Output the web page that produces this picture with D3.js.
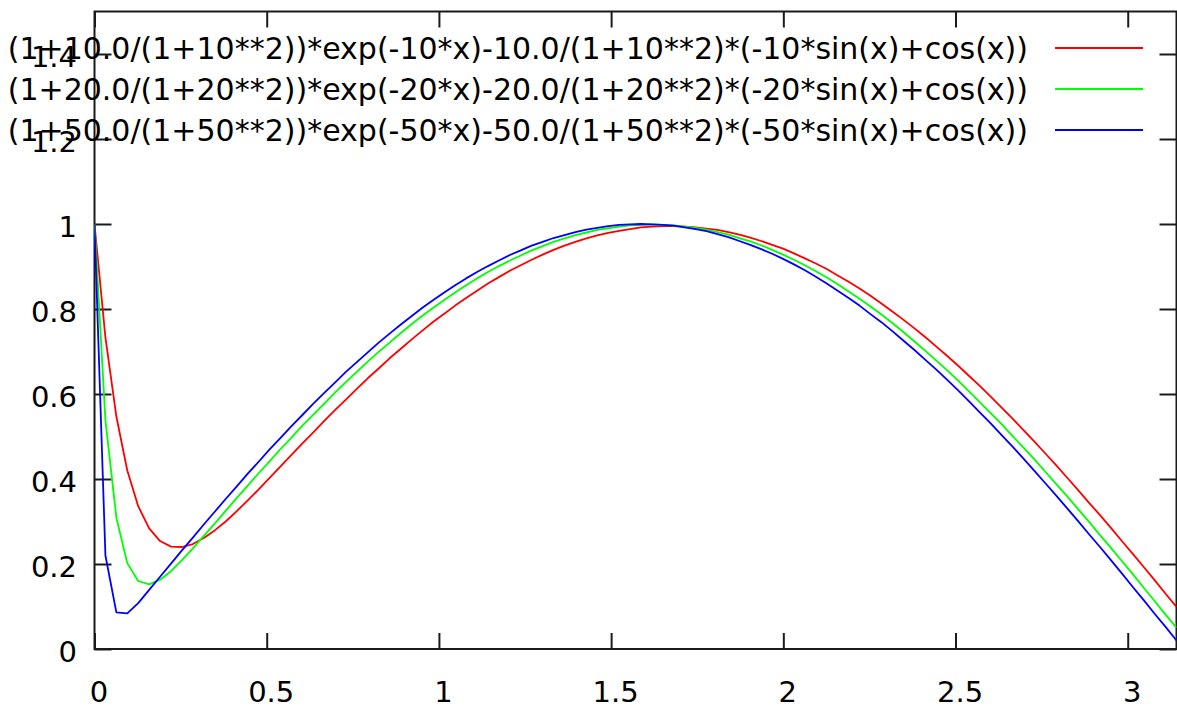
<!DOCTYPE html>
<html>
<head>
<meta charset="utf-8">
<script src="https://cdn.jsdelivr.net/npm/d3@7"></script>
<style>
  html, body { margin: 0; padding: 0; background: #fff; overflow: hidden; }
  svg { display: block; }
</style>
</head>
<body>
<svg id="chart" width="1177" height="706"></svg>
<script>
// Sample abscissae (100 samples over [0, pi])
const xs = [
  0, 0.0317, 0.0635, 0.0952, 0.1269, 0.1587, 0.1904, 0.2221, 0.2539, 0.2856,
  0.3173, 0.3491, 0.3808, 0.4125, 0.4443, 0.4760, 0.5077, 0.5395, 0.5712, 0.6029,
  0.6347, 0.6664, 0.6981, 0.7299, 0.7616, 0.7933, 0.8251, 0.8568, 0.8885, 0.9203,
  0.9520, 0.9837, 1.0155, 1.0472, 1.0789, 1.1107, 1.1424, 1.1741, 1.2059, 1.2376,
  1.2693, 1.3011, 1.3328, 1.3645, 1.3963, 1.4280, 1.4597, 1.4915, 1.5232, 1.5549,
  1.5867, 1.6184, 1.6501, 1.6819, 1.7136, 1.7453, 1.7771, 1.8088, 1.8405, 1.8723,
  1.9040, 1.9357, 1.9675, 1.9992, 2.0309, 2.0627, 2.0944, 2.1261, 2.1579, 2.1896,
  2.2213, 2.2531, 2.2848, 2.3165, 2.3483, 2.3800, 2.4117, 2.4435, 2.4752, 2.5069,
  2.5387, 2.5704, 2.6021, 2.6339, 2.6656, 2.6973, 2.7291, 2.7608, 2.7925, 2.8243,
  2.8560, 2.8877, 2.9195, 2.9512, 2.9829, 3.0147, 3.0464, 3.0781, 3.1099, 3.1416
];

// k = 10
const seriesK10 = [
  1.000, 0.733, 0.547, 0.420, 0.336, 0.284, 0.254, 0.241, 0.240, 0.247,
  0.261, 0.279, 0.300, 0.324, 0.349, 0.375, 0.402, 0.429, 0.456, 0.483,
  0.509, 0.536, 0.562, 0.587, 0.612, 0.637, 0.660, 0.684, 0.706, 0.728,
  0.749, 0.770, 0.789, 0.808, 0.826, 0.843, 0.860, 0.875, 0.890, 0.903,
  0.916, 0.928, 0.939, 0.949, 0.958, 0.966, 0.973, 0.979, 0.984, 0.988,
  0.992, 0.994, 0.995, 0.995, 0.994, 0.992, 0.989, 0.986, 0.981, 0.975,
  0.968, 0.960, 0.951, 0.942, 0.931, 0.919, 0.907, 0.894, 0.879, 0.864,
  0.848, 0.831, 0.813, 0.794, 0.775, 0.755, 0.734, 0.712, 0.690, 0.667,
  0.643, 0.619, 0.594, 0.568, 0.542, 0.515, 0.488, 0.460, 0.432, 0.403,
  0.374, 0.344, 0.315, 0.285, 0.254, 0.224, 0.193, 0.162, 0.130, 0.099
];

// k = 20
const seriesK20 = [
  1.000, 0.538, 0.309, 0.202, 0.160, 0.152, 0.163, 0.183, 0.209, 0.237,
  0.266, 0.295, 0.325, 0.355, 0.384, 0.413, 0.441, 0.470, 0.497, 0.525,
  0.551, 0.577, 0.603, 0.628, 0.652, 0.676, 0.699, 0.721, 0.743, 0.764,
  0.784, 0.803, 0.821, 0.839, 0.856, 0.872, 0.887, 0.901, 0.914, 0.926,
  0.938, 0.948, 0.958, 0.966, 0.974, 0.980, 0.986, 0.990, 0.994, 0.997,
  0.998, 0.999, 0.998, 0.997, 0.994, 0.991, 0.987, 0.981, 0.975, 0.967,
  0.959, 0.950, 0.939, 0.928, 0.916, 0.903, 0.889, 0.874, 0.858, 0.841,
  0.824, 0.806, 0.787, 0.767, 0.746, 0.724, 0.702, 0.679, 0.656, 0.632,
  0.607, 0.581, 0.555, 0.529, 0.501, 0.474, 0.446, 0.417, 0.388, 0.359,
  0.329, 0.299, 0.268, 0.238, 0.207, 0.176, 0.144, 0.113, 0.081, 0.050
];

// k = 50
const seriesK50 = [
  1.000, 0.220, 0.086, 0.084, 0.108, 0.139, 0.170, 0.201, 0.232, 0.262,
  0.293, 0.323, 0.353, 0.382, 0.412, 0.440, 0.469, 0.496, 0.524, 0.550,
  0.577, 0.602, 0.627, 0.652, 0.675, 0.698, 0.721, 0.742, 0.763, 0.783,
  0.803, 0.821, 0.839, 0.856, 0.872, 0.887, 0.901, 0.914, 0.927, 0.938,
  0.949, 0.958, 0.967, 0.974, 0.981, 0.987, 0.991, 0.995, 0.998, 0.999,
  1.000, 0.999, 0.998, 0.996, 0.992, 0.988, 0.983, 0.976, 0.969, 0.960,
  0.951, 0.941, 0.930, 0.918, 0.905, 0.891, 0.876, 0.860, 0.843, 0.826,
  0.808, 0.788, 0.769, 0.748, 0.726, 0.704, 0.681, 0.658, 0.634, 0.609,
  0.583, 0.557, 0.531, 0.503, 0.476, 0.448, 0.419, 0.390, 0.361, 0.331,
  0.301, 0.270, 0.240, 0.209, 0.178, 0.146, 0.115, 0.083, 0.052, 0.020
];

const seriesLabels = [
  "(1+10.0/(1+10**2))*exp(-10*x)-10.0/(1+10**2)*(-10*sin(x)+cos(x))",
  "(1+20.0/(1+20**2))*exp(-20*x)-20.0/(1+20**2)*(-20*sin(x)+cos(x))",
  "(1+50.0/(1+50**2))*exp(-50*x)-50.0/(1+50**2)*(-50*sin(x)+cos(x))"
];
const seriesColors = ["#ff0000", "#00ff00", "#0000ff"];

const xTicks = [0, 0.5, 1, 1.5, 2, 2.5, 3];
const yTicks = [0, 0.2, 0.4, 0.6, 0.8, 1, 1.2, 1.4];
const yDomain = [0, 1.5];

// ---------------------------------------------------------------
const FONT = "'DejaVu Sans', Verdana, sans-serif";
const TICK_FONT_SIZE = 29;
const KEY_FONT_SIZE = 30;
const INK = "#1a1a1a";

const box = { left: 94.5, right: 1176.5, top: 11.5, bottom: 649 };

const svg = d3.select("#chart");

const x = d3.scaleLinear().domain(d3.extent(xs)).range([box.left, box.right]);
const y = d3.scaleLinear().domain(yDomain).range([box.bottom, box.top]);

const fmt = d => String(d);

// bottom axis with labels, ticks pointing into the plot
const gx = svg.append("g")
  .attr("transform", `translate(0,${box.bottom})`)
  .call(d3.axisBottom(x).tickValues(xTicks).tickFormat(fmt)
    .tickSizeInner(-16).tickSizeOuter(0).tickPadding(0));
gx.selectAll("text")
  .attr("y", 53).attr("dy", 0).attr("dx", 4);

// top mirror ticks
svg.append("g")
  .attr("transform", `translate(0,${box.top})`)
  .call(d3.axisTop(x).tickValues(xTicks).tickFormat("")
    .tickSizeInner(-16).tickSizeOuter(0));

// left axis with labels
const gy = svg.append("g")
  .attr("transform", `translate(${box.left},0)`)
  .call(d3.axisLeft(y).tickValues(yTicks).tickFormat(fmt)
    .tickSizeInner(-17).tickSizeOuter(0).tickPadding(17.5));
gy.selectAll("text").attr("dy", 12.5);

// right mirror ticks
svg.append("g")
  .attr("transform", `translate(${box.right},0)`)
  .call(d3.axisRight(y).tickValues(yTicks).tickFormat("")
    .tickSizeInner(-17).tickSizeOuter(0));

svg.selectAll(".domain").remove();
svg.selectAll(".tick line").attr("stroke", INK).attr("stroke-width", 2);
svg.selectAll(".tick text")
  .attr("fill", "#000")
  .style("font-family", FONT)
  .style("font-size", TICK_FONT_SIZE + "px");

// plot border
svg.append("rect")
  .attr("x", box.left).attr("y", box.top)
  .attr("width", box.right - box.left).attr("height", box.bottom - box.top)
  .attr("fill", "none").attr("stroke", INK).attr("stroke-width", 2);

// curves
svg.append("clipPath").attr("id", "plot-clip")
  .append("rect")
  .attr("x", box.left).attr("y", box.top)
  .attr("width", box.right - box.left).attr("height", box.bottom - box.top);

const line = d3.line()
  .x((d, i) => x(xs[i]))
  .y(d => y(d));

const allSeries = [seriesK10, seriesK20, seriesK50];
svg.append("g").attr("clip-path", "url(#plot-clip)")
  .selectAll("path")
  .data(allSeries)
  .join("path")
  .attr("d", line)
  .attr("fill", "none")
  .attr("stroke", (d, i) => seriesColors[i])
  .attr("stroke-width", 1.8)
  .attr("stroke-linejoin", "round");

// key (top right, text right-aligned before the sample line)
const key = svg.append("g");
const keyRows = key.selectAll("g")
  .data(seriesLabels)
  .join("g")
  .attr("transform", (d, i) => `translate(0,${48 + i * 41})`);
keyRows.append("text")
  .attr("x", 1028).attr("y", 10.5)
  .attr("text-anchor", "end")
  .attr("fill", "#000")
  .style("font-family", FONT)
  .style("font-size", KEY_FONT_SIZE + "px")
  .text(d => d);
keyRows.append("line")
  .attr("x1", 1055).attr("x2", 1143)
  .attr("y1", 0).attr("y2", 0)
  .attr("stroke", (d, i) => seriesColors[i])
  .attr("stroke-width", 2);
</script>
</body>
</html>
